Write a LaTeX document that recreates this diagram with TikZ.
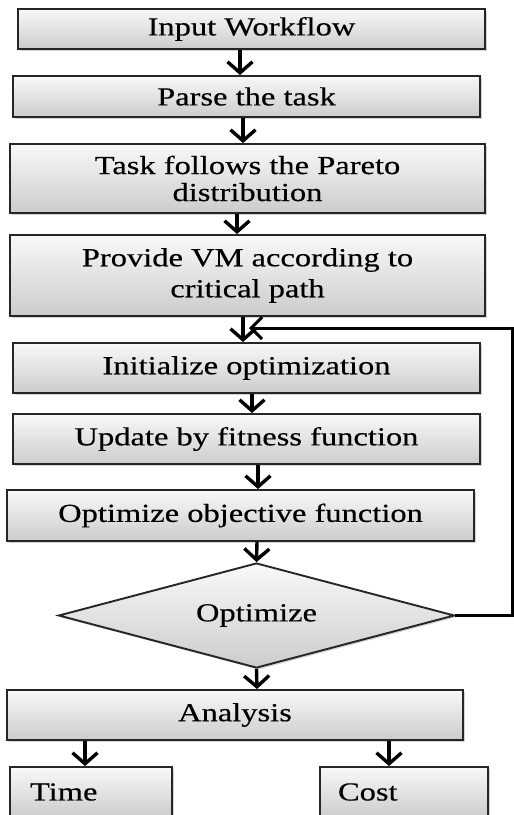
\documentclass[tikz,border=0pt]{standalone}
\usepackage{fontspec}
\setmainfont[FakeStretch=1.25,FakeBold=0.4]{Liberation Serif}
\usetikzlibrary{arrows.meta,shapes.geometric,shadows}
\begin{document}
\begin{tikzpicture}[x=1pt,y=1pt,
  box/.style={draw=black!85, line width=1.9pt, top color=gray!5, bottom color=gray!40,
    drop shadow={shadow xshift=1.8pt,shadow yshift=-1.8pt,opacity=0.35},
    font=\fontsize{26}{27}\selectfont, text=black, align=center, inner sep=0pt},
  dia/.style={box, diamond, aspect=3.77},
  arr/.style={line width=3.4pt, -{Straight Barb[length=11pt,width=25pt,line width=3.4pt]}},
  fb/.style={line width=3pt, -{Straight Barb[length=11pt,width=22pt,line width=3pt]}}
]
\useasboundingbox (0,0) rectangle (514,-815);

\node[box, minimum width=467pt, minimum height=40pt] (in) at (251.5,-29) {Input Workflow};
\node[box, minimum width=467pt, minimum height=41pt] (parse) at (246.5,-96.5) {Parse the task};
\node[box, minimum width=475pt, minimum height=69pt] (pareto) at (247.5,-178.5) {Task follows the Pareto\\ distribution};
\node[box, minimum width=475pt, minimum height=81pt] (vm) at (247.5,-275.5) {Provide VM according to\\[4pt] critical path};
\node[box, minimum width=467pt, minimum height=50pt] (init) at (246.5,-368) {Initialize optimization};
\node[box, minimum width=467pt, minimum height=50pt] (upd) at (246.5,-439) {Update by fitness function};
\node[box, minimum width=467pt, minimum height=51pt] (obj) at (240.5,-515.5) {Optimize objective function};
\node[dia, minimum width=396pt, minimum height=105pt] (opt) at (256.5,-615.5) {Optimize};
\node[box, minimum width=456pt, minimum height=50pt] (ana) at (235,-715) {Analysis};
\node[box, minimum height=50pt, text width=122pt, align=left, inner xsep=20pt] (time) at (91,-792) {Time};
\node[box, minimum height=50pt, text width=132pt, align=left, inner xsep=18pt] (cost) at (404,-792) {Cost};

\draw[arr] ([xshift=-11.5pt]in.south) -- ([xshift=-6.5pt]parse.north);
\draw[arr] ([xshift=-3.5pt]parse.south) -- ([xshift=-4.5pt]pareto.north);
\draw[arr] ([xshift=-10.5pt]pareto.south) -- ([xshift=-10.5pt]vm.north);
\draw[arr] ([xshift=-4.5pt]vm.south) -- ([xshift=-3.5pt]init.north);
\draw[arr] ([xshift=5.5pt]init.south) -- ([xshift=5.5pt]upd.north);
\draw[arr] ([xshift=11.5pt]upd.south) -- ([xshift=17.5pt]obj.north);
\draw[arr] ([xshift=16.5pt]obj.south) -- (opt.north);
\draw[arr] (opt.south) -- ([xshift=22pt]ana.north);
\draw[arr] ([xshift=-150pt]ana.south) -- ([xshift=-6pt]time.north);
\draw[arr] ([xshift=154pt]ana.south) -- ([xshift=-15pt]cost.north);

\coordinate (loopin) at (249,-328);
\draw[fb] (opt.east) -- ++(57,0) |- (loopin);
\end{tikzpicture}
\end{document}
